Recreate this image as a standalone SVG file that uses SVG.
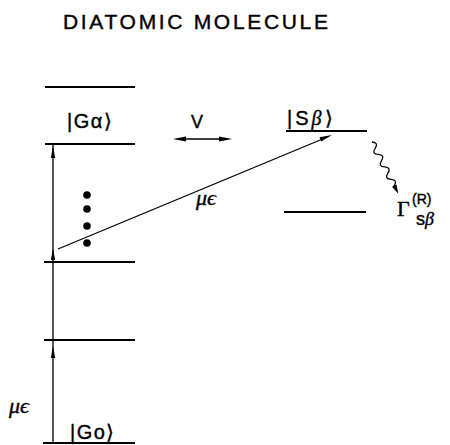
<svg xmlns="http://www.w3.org/2000/svg" width="450" height="445" viewBox="0 0 450 445">
<style>
.lvl{stroke:#000;stroke-width:2;fill:none}
.ln{stroke:#000;stroke-width:1.3;fill:none}
.ah{fill:#000;stroke:none}
.t{font-family:"Liberation Sans",Arial,sans-serif;fill:#000;stroke:#000;stroke-width:0.4}
.it{font-family:"Liberation Serif","DejaVu Serif",serif;font-style:italic;fill:#000;stroke:#000;stroke-width:0.4}
.lab{font-size:20px;letter-spacing:1.5px}
</style>
<rect width="450" height="445" fill="#fff"/>
<text class="t" x="63" y="29" font-size="21" textLength="265" lengthAdjust="spacing">DIATOMIC  MOLECULE</text>

<g id="levels-left">
<line class="lvl" x1="45" y1="87" x2="135" y2="87"/>
<line class="lvl" x1="45" y1="144" x2="135" y2="144"/>
<line class="lvl" x1="44" y1="262" x2="135" y2="262"/>
<line class="lvl" x1="44" y1="340" x2="135" y2="340"/>
<line class="lvl" x1="43" y1="443" x2="135" y2="443"/>
</g>
<g id="label-Ga"><text class="t lab" x="67" y="128">|Gα⟩</text></g>
<g id="label-Go"><text class="t lab" x="70" y="439">|Go⟩</text></g>
<g id="dots">
<circle cx="87" cy="195" r="3.8"/>
<circle cx="87" cy="209" r="3.8"/>
<circle cx="87" cy="226" r="3.8"/>
<circle cx="87" cy="243" r="3.8"/>
</g>
<g id="level-Sb">
<line class="lvl" x1="286" y1="131" x2="367" y2="131"/>
<text class="t lab" x="287" y="125" style="letter-spacing:3px">|S<tspan class="it">β</tspan>⟩</text>
</g>
<g id="level-right-lower"><line class="lvl" x1="284" y1="212" x2="366" y2="212"/></g>
<g id="gamma">
<text class="it" x="397" y="216" font-size="22" style="font-style:normal">Γ</text>
<text class="t" x="412" y="204" font-size="14">(R)</text>
<text class="t" x="416" y="225" font-size="18">s<tspan class="it">β</tspan></text>
</g>

<g id="connectors">
<line class="ln" x1="53" y1="145" x2="53" y2="443"/>
<polygon class="ah" points="53,146 55.2,158 50.8,158"/>
<polygon class="ah" points="53,248 55.2,260 50.8,260"/>
<polygon class="ah" points="53,346 55.2,358 50.8,358"/>
<line class="ln" x1="58" y1="249" x2="325" y2="138"/>
<polygon class="ah" points="332,135 319.5,137.2 321.2,141.4"/>
<line class="ln" x1="180" y1="139" x2="226" y2="139"/>
<polygon class="ah" points="173,139 186,136.5 186,141.5"/>
<polygon class="ah" points="232,139 219,136.5 219,141.5"/>
<g transform="translate(372,142) rotate(63)">
<path class="ln" d="M0,0 q3.5,-6 7,0 t7,0 t7,0 t7,0 t7,0 t7,0 t7,0 l2,0"/>
<polygon class="ah" points="58,0 49,-2.5 49,2.5"/>
</g>
</g>
<text class="t" x="191" y="128" font-size="18">V</text>
<text class="it" x="196" y="205" font-size="22">μϵ</text>
<text class="it" x="9" y="413" font-size="22">μϵ</text>
</svg>
